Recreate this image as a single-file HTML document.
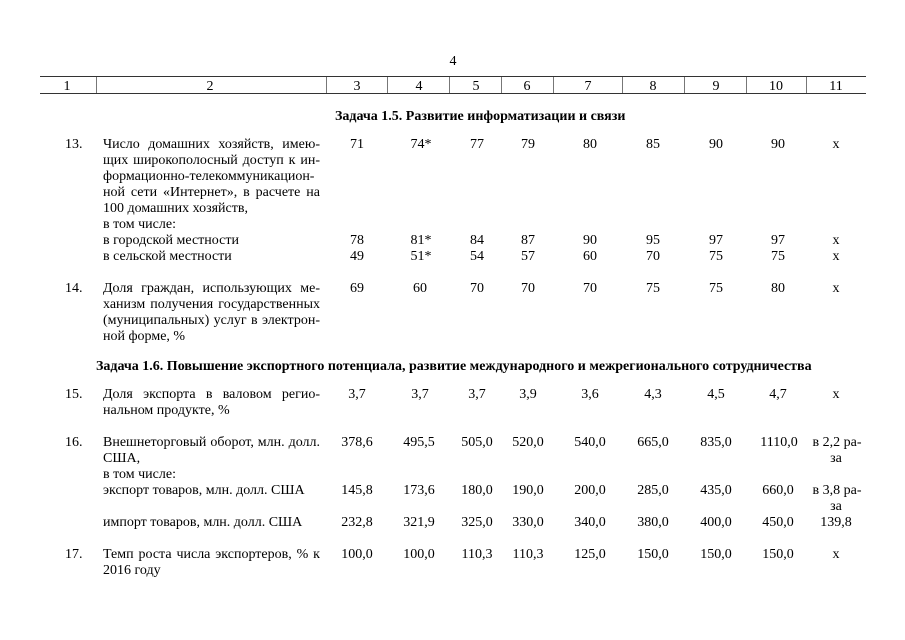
<!DOCTYPE html>
<html><head><meta charset="utf-8">
<style>
html,body{margin:0;padding:0;background:#fff;}
body{width:905px;height:640px;position:relative;overflow:hidden;font-family:"Liberation Serif","Noto Serif CJK SC",serif;font-size:14px;color:#000;}
.t{position:absolute;line-height:16px;height:16px;white-space:nowrap;}
.c{position:absolute;line-height:16px;height:16px;width:80px;text-align:center;white-space:nowrap;}
.j{position:absolute;left:103px;width:217px;line-height:16px;height:16px;text-align:justify;text-align-last:justify;}
.l{position:absolute;left:103px;line-height:16px;height:16px;white-space:nowrap;}
.t,.c,.j,.l{margin-top:2px;}
.b{font-weight:bold;}
.hl{position:absolute;left:40px;width:826px;height:1px;background:#333;}
.vl{position:absolute;top:77px;height:16px;width:1px;background:#777;}
</style></head><body>
<div class="c" style="left:413px;top:52px;">4</div>

<div class="hl" style="top:76px;"></div>
<div class="hl" style="top:93px;"></div>
<div class="vl" style="left:96px;"></div>
<div class="vl" style="left:326px;"></div>
<div class="vl" style="left:387px;"></div>
<div class="vl" style="left:449px;"></div>
<div class="vl" style="left:501px;"></div>
<div class="vl" style="left:553px;"></div>
<div class="vl" style="left:622px;"></div>
<div class="vl" style="left:684px;"></div>
<div class="vl" style="left:746px;"></div>
<div class="vl" style="left:806px;"></div>

<div class="c" style="left:27px;top:77px;">1</div>
<div class="c" style="left:170px;top:77px;">2</div>
<div class="c" style="left:317px;top:77px;">3</div>
<div class="c" style="left:379px;top:77px;">4</div>
<div class="c" style="left:436px;top:77px;">5</div>
<div class="c" style="left:487px;top:77px;">6</div>
<div class="c" style="left:548px;top:77px;">7</div>
<div class="c" style="left:613px;top:77px;">8</div>
<div class="c" style="left:676px;top:77px;">9</div>
<div class="c" style="left:736px;top:77px;">10</div>
<div class="c" style="left:796px;top:77px;">11</div>

<div class="t b" style="left:335px;top:107px;">Задача 1.5. Развитие информатизации и связи</div>

<!-- Row 13 -->
<div class="t" style="left:65px;top:135px;">13.</div>
<div class="j" style="top:135px;">Число домашних хозяйств, имею-</div>
<div class="j" style="top:151px;">щих широкополосный доступ к ин-</div>
<div class="j" style="top:167px;">формационно-телекоммуникацион-</div>
<div class="j" style="top:183px;">ной сети «Интернет», в расчете на</div>
<div class="l" style="top:199px;">100 домашних хозяйств,</div>
<div class="l" style="top:215px;">в том числе:</div>
<div class="l" style="top:231px;">в городской местности</div>
<div class="l" style="top:247px;">в сельской местности</div>

<div class="c" style="left:317px;top:135px;">71</div>
<div class="c" style="left:381px;top:135px;">74*</div>
<div class="c" style="left:437px;top:135px;">77</div>
<div class="c" style="left:488px;top:135px;">79</div>
<div class="c" style="left:550px;top:135px;">80</div>
<div class="c" style="left:613px;top:135px;">85</div>
<div class="c" style="left:676px;top:135px;">90</div>
<div class="c" style="left:738px;top:135px;">90</div>
<div class="c" style="left:796px;top:135px;">x</div>

<div class="c" style="left:317px;top:231px;">78</div>
<div class="c" style="left:381px;top:231px;">81*</div>
<div class="c" style="left:437px;top:231px;">84</div>
<div class="c" style="left:488px;top:231px;">87</div>
<div class="c" style="left:550px;top:231px;">90</div>
<div class="c" style="left:613px;top:231px;">95</div>
<div class="c" style="left:676px;top:231px;">97</div>
<div class="c" style="left:738px;top:231px;">97</div>
<div class="c" style="left:796px;top:231px;">x</div>

<div class="c" style="left:317px;top:247px;">49</div>
<div class="c" style="left:381px;top:247px;">51*</div>
<div class="c" style="left:437px;top:247px;">54</div>
<div class="c" style="left:488px;top:247px;">57</div>
<div class="c" style="left:550px;top:247px;">60</div>
<div class="c" style="left:613px;top:247px;">70</div>
<div class="c" style="left:676px;top:247px;">75</div>
<div class="c" style="left:738px;top:247px;">75</div>
<div class="c" style="left:796px;top:247px;">x</div>

<!-- Row 14 -->
<div class="t" style="left:65px;top:279px;">14.</div>
<div class="j" style="top:279px;">Доля граждан, использующих ме-</div>
<div class="j" style="top:295px;">ханизм получения государственных</div>
<div class="j" style="top:311px;">(муниципальных) услуг в электрон-</div>
<div class="l" style="top:327px;">ной форме, %</div>

<div class="c" style="left:317px;top:279px;">69</div>
<div class="c" style="left:380px;top:279px;">60</div>
<div class="c" style="left:437px;top:279px;">70</div>
<div class="c" style="left:488px;top:279px;">70</div>
<div class="c" style="left:550px;top:279px;">70</div>
<div class="c" style="left:613px;top:279px;">75</div>
<div class="c" style="left:676px;top:279px;">75</div>
<div class="c" style="left:738px;top:279px;">80</div>
<div class="c" style="left:796px;top:279px;">x</div>

<div class="t b" style="left:96px;top:357px;">Задача 1.6. Повышение экспортного потенциала, развитие международного и межрегионального сотрудничества</div>

<!-- Row 15 -->
<div class="t" style="left:65px;top:385px;">15.</div>
<div class="j" style="top:385px;">Доля экспорта в валовом регио-</div>
<div class="l" style="top:401px;">нальном продукте, %</div>

<div class="c" style="left:317px;top:385px;">3,7</div>
<div class="c" style="left:380px;top:385px;">3,7</div>
<div class="c" style="left:437px;top:385px;">3,7</div>
<div class="c" style="left:488px;top:385px;">3,9</div>
<div class="c" style="left:550px;top:385px;">3,6</div>
<div class="c" style="left:613px;top:385px;">4,3</div>
<div class="c" style="left:676px;top:385px;">4,5</div>
<div class="c" style="left:738px;top:385px;">4,7</div>
<div class="c" style="left:796px;top:385px;">x</div>

<!-- Row 16 -->
<div class="t" style="left:65px;top:433px;">16.</div>
<div class="j" style="top:433px;">Внешнеторговый оборот, млн. долл.</div>
<div class="l" style="top:449px;">США,</div>
<div class="l" style="top:465px;">в том числе:</div>
<div class="l" style="top:481px;">экспорт товаров, млн. долл. США</div>
<div class="l" style="top:513px;">импорт товаров, млн. долл. США</div>

<div class="c" style="left:317px;top:433px;">378,6</div>
<div class="c" style="left:379px;top:433px;">495,5</div>
<div class="c" style="left:437px;top:433px;">505,0</div>
<div class="c" style="left:488px;top:433px;">520,0</div>
<div class="c" style="left:550px;top:433px;">540,0</div>
<div class="c" style="left:613px;top:433px;">665,0</div>
<div class="c" style="left:676px;top:433px;">835,0</div>
<div class="c" style="left:739px;top:433px;">1110,0</div>
<div class="c" style="left:797px;top:433px;">в 2,2 ра-</div>
<div class="c" style="left:796px;top:449px;">за</div>

<div class="c" style="left:317px;top:481px;">145,8</div>
<div class="c" style="left:379px;top:481px;">173,6</div>
<div class="c" style="left:437px;top:481px;">180,0</div>
<div class="c" style="left:488px;top:481px;">190,0</div>
<div class="c" style="left:550px;top:481px;">200,0</div>
<div class="c" style="left:613px;top:481px;">285,0</div>
<div class="c" style="left:676px;top:481px;">435,0</div>
<div class="c" style="left:738px;top:481px;">660,0</div>
<div class="c" style="left:797px;top:481px;">в 3,8 ра-</div>
<div class="c" style="left:796px;top:497px;">за</div>

<div class="c" style="left:317px;top:513px;">232,8</div>
<div class="c" style="left:379px;top:513px;">321,9</div>
<div class="c" style="left:437px;top:513px;">325,0</div>
<div class="c" style="left:488px;top:513px;">330,0</div>
<div class="c" style="left:550px;top:513px;">340,0</div>
<div class="c" style="left:613px;top:513px;">380,0</div>
<div class="c" style="left:676px;top:513px;">400,0</div>
<div class="c" style="left:738px;top:513px;">450,0</div>
<div class="c" style="left:796px;top:513px;">139,8</div>

<!-- Row 17 -->
<div class="t" style="left:65px;top:545px;">17.</div>
<div class="j" style="top:545px;">Темп роста числа экспортеров, % к</div>
<div class="l" style="top:561px;">2016 году</div>

<div class="c" style="left:317px;top:545px;">100,0</div>
<div class="c" style="left:379px;top:545px;">100,0</div>
<div class="c" style="left:437px;top:545px;">110,3</div>
<div class="c" style="left:488px;top:545px;">110,3</div>
<div class="c" style="left:550px;top:545px;">125,0</div>
<div class="c" style="left:613px;top:545px;">150,0</div>
<div class="c" style="left:676px;top:545px;">150,0</div>
<div class="c" style="left:738px;top:545px;">150,0</div>
<div class="c" style="left:796px;top:545px;">x</div>
</body></html>
